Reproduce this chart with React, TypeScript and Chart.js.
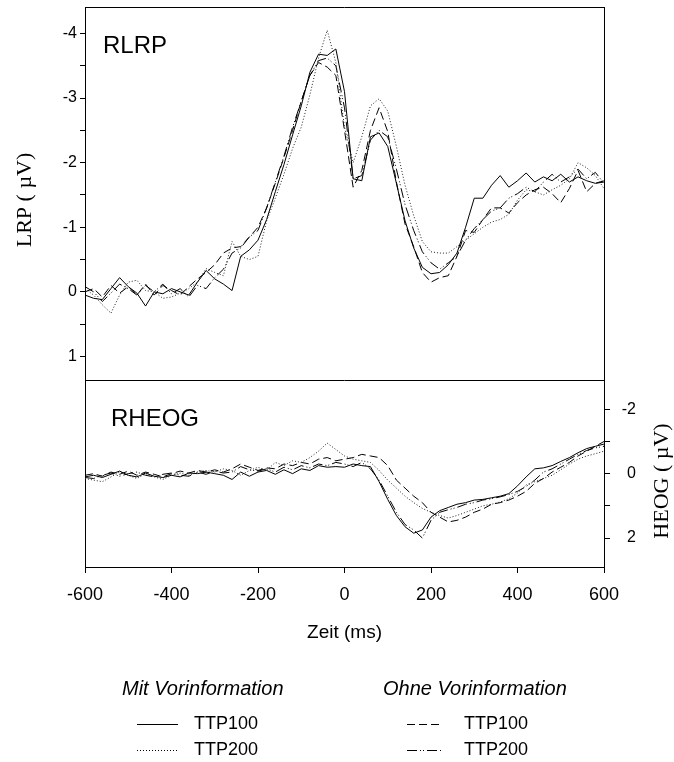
import React, { useEffect, useRef } from "react";
import { Chart, registerables } from "chart.js";

Chart.register(...registerables);

// Time axis (ms)
const times = [
  -600, -580, -560, -540, -520, -500, -480, -460, -440, -420,
  -400, -380, -360, -340, -320, -300, -280, -260, -240, -220,
  -200, -180, -160, -140, -120, -100, -80, -60, -40, -20,
  0, 20, 40, 60, 80, 100, 120, 140, 160, 180,
  200, 220, 240, 260, 280, 300, 320, 340, 360, 380,
  400, 420, 440, 460, 480, 500, 520, 540, 560, 580,
  600,
];

// LRP (µV) – top panel
const lrpMit100 = [
  0.05, 0.10, 0.12, -0.05, -0.22, -0.08, 0.02, 0.22, 0.00, 0.03,
  -0.05, 0.00, 0.05, -0.15, -0.33, -0.20, -0.12, -0.02, -0.55, -0.65,
  -0.80, -1.12, -1.55, -1.97, -2.43, -2.88, -3.40, -3.68, -3.66, -3.76,
  -3.10, -1.75, -1.72, -2.40, -2.46, -2.25, -1.68, -1.10, -0.68, -0.38,
  -0.28, -0.30, -0.42, -0.60, -1.00, -1.45, -1.45, -1.65, -1.80, -1.62,
  -1.72, -1.84, -1.70, -1.78, -1.72, -1.82, -1.70, -1.78, -1.72, -1.68,
  -1.70,
];
const lrpMit200 = [
  -0.05, 0.05, 0.20, 0.33, 0.05, -0.15, -0.18, -0.02, 0.00, 0.10,
  0.08, 0.02, -0.05, -0.15, -0.36, -0.30, -0.25, -0.78, -0.55, -0.50,
  -0.55, -1.10, -1.45, -1.82, -2.22, -2.55, -3.05, -3.62, -4.05, -3.55,
  -2.55, -2.00, -2.40, -2.88, -2.99, -2.80, -2.25, -1.65, -1.18, -0.78,
  -0.62, -0.60, -0.60, -0.70, -0.80, -0.90, -1.00, -1.08, -1.12, -1.20,
  -1.42, -1.58, -1.55, -1.50, -1.58, -1.65, -1.75, -2.00, -1.92, -1.80,
  -1.60,
];
const lrpOhne100 = [
  0.00, -0.05, 0.08, -0.10, 0.02, -0.08, 0.05, -0.12, 0.05, -0.10,
  -0.02, 0.05, -0.08, -0.20, -0.30, -0.42, -0.60, -0.68, -0.70, -0.85,
  -1.00, -1.30, -1.68, -2.08, -2.50, -2.95, -3.35, -3.55, -3.48, -3.35,
  -2.50, -1.62, -1.88, -2.50, -2.85, -2.48, -1.70, -1.05, -0.70, -0.30,
  -0.15, -0.22, -0.25, -0.55, -0.95, -0.92, -1.12, -1.30, -1.30, -1.22,
  -1.38, -1.50, -1.58, -1.62, -1.52, -1.38, -1.60, -1.88, -1.55, -1.68,
  -1.72,
];
const lrpOhne200 = [
  -0.08, 0.00, 0.15, 0.02, -0.12, -0.05, 0.05, -0.10, 0.00, -0.12,
  0.03, -0.05, 0.08, -0.10, -0.05, -0.22, -0.35, -0.60, -0.68, -0.85,
  -0.95, -1.30, -1.70, -2.10, -2.55, -2.95, -3.35, -3.58, -3.62, -3.50,
  -2.85, -1.75, -1.80, -2.35, -2.50, -2.40, -1.90, -1.35, -0.95, -0.62,
  -0.45, -0.35, -0.45, -0.55, -0.80, -0.98, -1.12, -1.25, -1.30, -1.45,
  -1.52, -1.62, -1.55, -1.70, -1.82, -1.70, -1.78, -1.90, -1.75, -1.85,
  -1.68,
];

// HEOG (µV) – bottom panel
const heogMit100 = [
  0.10, 0.05, 0.12, 0.02, -0.08, 0.05, 0.10, -0.02, 0.08, 0.12,
  0.05, 0.10, -0.02, 0.00, -0.05, 0.00, 0.05, 0.18, -0.05, 0.08,
  -0.05, -0.10, 0.02, -0.12, 0.00, -0.15, -0.10, -0.25, -0.20, -0.22,
  -0.20, -0.30, -0.25, -0.22, 0.25, 0.80, 1.30, 1.65, 1.85, 1.75,
  1.35, 1.15, 1.05, 0.95, 0.90, 0.82, 0.80, 0.75, 0.70, 0.62,
  0.38, 0.10, -0.15, -0.18, -0.25, -0.38, -0.50, -0.65, -0.78, -0.85,
  -0.92,
];
const heogMit200 = [
  0.15, 0.20, 0.25, 0.10, -0.05, 0.05, 0.15, 0.00, 0.10, 0.18,
  0.05, -0.02, 0.05, -0.05, -0.10, -0.05, -0.15, -0.10, 0.05, -0.10,
  -0.20, -0.10, -0.35, -0.25, -0.40, -0.35, -0.50, -0.70, -0.95, -0.75,
  -0.55, -0.45, -0.40, -0.35, -0.10, 0.20, 0.45, 0.70, 0.90, 1.08,
  1.20, 1.30, 1.38, 1.30, 1.20, 1.10, 1.00, 0.95, 0.88, 0.78,
  0.60, 0.35, 0.25, 0.15, 0.05, -0.12, -0.30, -0.45, -0.55, -0.62,
  -0.70,
];
const heogOhne100 = [
  0.05, 0.00, 0.08, -0.05, 0.02, -0.08, 0.05, -0.05, 0.02, 0.10,
  0.00, -0.08, -0.02, -0.10, -0.05, -0.12, -0.05, -0.15, -0.30, -0.20,
  -0.10, -0.18, -0.15, -0.30, -0.25, -0.35, -0.30, -0.45, -0.50, -0.40,
  -0.45, -0.50, -0.60, -0.55, -0.50, -0.25, 0.20, 0.45, 0.70, 0.90,
  1.20, 1.35, 1.50, 1.45, 1.35, 1.20, 1.10, 0.95, 0.90, 0.82,
  0.70, 0.55, 0.30, 0.15, -0.05, -0.20, -0.35, -0.55, -0.70, -0.85,
  -1.00,
];
const heogOhne200 = [
  0.12, 0.15, 0.05, -0.02, 0.08, 0.00, -0.05, 0.05, 0.10, 0.02,
  -0.02, 0.05, 0.08, -0.05, 0.02, -0.08, -0.02, -0.05, -0.22, -0.12,
  -0.08, -0.15, -0.05, -0.20, -0.12, -0.25, -0.18, -0.30, -0.25, -0.35,
  -0.30, -0.22, -0.35, -0.15, 0.20, 0.70, 1.20, 1.58, 1.75, 2.00,
  1.45, 1.20, 1.12, 1.05, 0.95, 0.90, 0.82, 0.78, 0.72, 0.65,
  0.55, 0.40, 0.20, -0.05, -0.15, -0.30, -0.45, -0.60, -0.72, -0.80,
  -0.85,
];

const lrpLabeledTicks = [-4, -3, -2, -1, 0, 1];
const heogLabeledTicks = [-2, 0, 2];

const groupTitles = ["Mit Vorinformation", "Ohne Vorinformation"];
const seriesNames = ["TTP100", "TTP200"];

const SANS = "'Liberation Sans', Arial, Helvetica, sans-serif";
const SERIF = "'Liberation Serif', 'Times New Roman', serif";

const DASH_SOLID: number[] = [];
const DASH_DOT = [1, 2];
const DASH_DASH = [8, 4];
const DASH_DASHDOT = [10, 3, 1, 2, 1, 3];

const toXY = (ys: number[]) => times.map((t, i) => ({ x: t, y: ys[i] }));

function lineDs(label: string, ys: number[], axis: string, dash: number[], color = "#000") {
  return {
    label,
    data: toXY(ys),
    yAxisID: axis,
    borderColor: color,
    borderWidth: 1,
    borderDash: dash,
    pointRadius: 0,
    pointHoverRadius: 0,
    tension: 0,
    fill: false,
  };
}

const noPad = (s: any) => {
  s.paddingTop = 0;
  s.paddingBottom = 0;
  s.paddingLeft = 0;
  s.paddingRight = 0;
};

export default function App() {
  const ref = useRef<HTMLCanvasElement>(null);

  useEffect(() => {
    const canvas = ref.current;
    if (!canvas) return;

    const decor = {
      id: "decor",
      afterDraw(chart: any) {
        const ctx = chart.ctx as CanvasRenderingContext2D;
        const ca = chart.chartArea;
        const yTop = chart.scales.yTop;
        ctx.save();
        ctx.strokeStyle = "#000";
        ctx.lineWidth = 1;
        ctx.setLineDash([]);
        // top border and panel divider
        const topY = Math.round(ca.top) + 0.5;
        const divY = Math.round(yTop.bottom) + 0.5;
        ctx.beginPath();
        ctx.moveTo(ca.left, topY);
        ctx.lineTo(ca.right, topY);
        ctx.moveTo(ca.left, divY);
        ctx.lineTo(ca.right, divY);
        ctx.stroke();

        ctx.fillStyle = "#000";
        // panel labels
        ctx.font = `24px ${SANS}`;
        ctx.textAlign = "left";
        ctx.textBaseline = "alphabetic";
        ctx.fillText("RLRP", ca.left + 18, ca.top + 46);
        ctx.fillText("RHEOG", ca.left + 26, yTop.bottom + 46);

        // axis titles (rotated, reading bottom to top)
        ctx.font = `22px ${SERIF}`;
        ctx.textAlign = "center";
        ctx.textBaseline = "middle";
        ctx.save();
        ctx.translate(25, 200);
        ctx.rotate(-Math.PI / 2);
        ctx.fillText("LRP ( µV)", 0, 0);
        ctx.restore();
        ctx.save();
        ctx.translate(662, 481);
        ctx.rotate(-Math.PI / 2);
        ctx.fillText("HEOG ( µV)", 0, 0);
        ctx.restore();

        // legend
        const cols = [
          { titleX: 122, lineX0: 137, lineX1: 178, textX: 194, dashes: [DASH_SOLID, DASH_DOT] },
          { titleX: 383, lineX0: 407, lineX1: 443, textX: 464, dashes: [DASH_DASH, DASH_DASHDOT] },
        ];
        const rowsY = [724, 750];
        cols.forEach((c, ci) => {
          ctx.font = `italic 20px ${SANS}`;
          ctx.textAlign = "left";
          ctx.textBaseline = "middle";
          ctx.fillText(groupTitles[ci], c.titleX, 689);
          rowsY.forEach((ry, ri) => {
            ctx.beginPath();
            ctx.setLineDash(c.dashes[ri]);
            ctx.moveTo(c.lineX0, ry + 0.5);
            ctx.lineTo(c.lineX1, ry + 0.5);
            ctx.stroke();
            ctx.setLineDash([]);
            ctx.font = `18px ${SANS}`;
            ctx.fillText(seriesNames[ri], c.textX, ry);
          });
        });
        ctx.restore();
      },
    };

    const chart = new Chart(canvas, {
      type: "line",
      data: {
        datasets: [
          lineDs("LRP Mit TTP100", lrpMit100, "yTop", DASH_SOLID),
          lineDs("LRP Mit TTP200", lrpMit200, "yTop", DASH_DOT, "#222"),
          lineDs("LRP Ohne TTP100", lrpOhne100, "yTop", DASH_DASH),
          lineDs("LRP Ohne TTP200", lrpOhne200, "yTop", DASH_DASHDOT),
          lineDs("HEOG Mit TTP100", heogMit100, "yBotR", DASH_SOLID),
          lineDs("HEOG Mit TTP200", heogMit200, "yBotR", DASH_DOT, "#222"),
          lineDs("HEOG Ohne TTP100", heogOhne100, "yBotR", DASH_DASH),
          lineDs("HEOG Ohne TTP200", heogOhne200, "yBotR", DASH_DASHDOT),
        ] as any,
      },
      options: {
        responsive: false,
        animation: false,
        events: [],
        layout: { padding: { top: 7, left: 0, right: 38, bottom: 114 } },
        plugins: {
          legend: { display: false },
          tooltip: { enabled: false },
        },
        scales: {
          x: {
            type: "linear",
            position: "bottom",
            min: -600,
            max: 600,
            ticks: {
              stepSize: 200,
              color: "#000",
              font: { family: SANS, size: 18 },
              padding: 11,
              maxRotation: 0,
              autoSkip: false,
              callback: (v: any) => String(v),
            },
            grid: { drawOnChartArea: false, drawTicks: true, tickLength: 6, color: "#000" },
            border: { display: true, color: "#000" },
            title: {
              display: true,
              text: "Zeit (ms)",
              color: "#000",
              font: { family: SANS, size: 19 },
              padding: { top: 4, bottom: 4 },
            },
            afterFit: (s: any) => {
              s.height = 81;
              noPad(s);
            },
          },
          yTop: {
            type: "linear",
            position: "left",
            stack: "L",
            stackWeight: 2,
            weight: 1,
            reverse: true,
            min: -4.41,
            max: 1.37,
            ticks: {
              stepSize: 0.5,
              includeBounds: false,
              autoSkip: false,
              color: "#000",
              font: { family: SANS, size: 16 },
              padding: 3,
              callback: (v: any) => (lrpLabeledTicks.includes(Number(v)) ? String(v) : ""),
            },
            grid: { drawOnChartArea: false, drawTicks: true, tickLength: 5, color: "#000" },
            border: { display: true, color: "#000" },
            afterFit: (s: any) => {
              s.width = 85;
              noPad(s);
            },
          },
          yBotL: {
            type: "linear",
            position: "left",
            stack: "L",
            stackWeight: 1,
            weight: 0,
            min: -1,
            max: 1,
            ticks: { display: false },
            grid: { display: false },
            border: { display: true, color: "#000" },
            afterFit: (s: any) => {
              s.width = 85;
              noPad(s);
            },
          },
          yTopR: {
            type: "linear",
            position: "right",
            stack: "R",
            stackWeight: 2,
            weight: 0,
            min: -1,
            max: 1,
            ticks: { display: false },
            grid: { display: false },
            border: { display: true, color: "#000" },
            afterFit: (s: any) => {
              s.width = 32;
              noPad(s);
            },
          },
          yBotR: {
            type: "linear",
            position: "right",
            stack: "R",
            stackWeight: 1,
            weight: 1,
            reverse: true,
            min: -2.9,
            max: 2.9,
            ticks: {
              stepSize: 1,
              includeBounds: false,
              autoSkip: false,
              crossAlign: "far",
              color: "#000",
              font: { family: SANS, size: 16 },
              padding: 12,
              callback: (v: any) => (heogLabeledTicks.includes(Number(v)) ? String(v) : ""),
            },
            grid: { drawOnChartArea: false, drawTicks: true, tickLength: 6, color: "#000" },
            border: { display: true, color: "#000" },
            afterFit: (s: any) => {
              s.width = 32;
              noPad(s);
            },
          },
        },
      } as any,
      plugins: [decor],
    });

    return () => chart.destroy();
  }, []);

  return (
    <div style={{ position: "absolute", left: 0, top: 0, width: 674, height: 762, background: "#fff" }}>
      <canvas ref={ref} width={674} height={762} style={{ width: 674, height: 762, display: "block" }} />
    </div>
  );
}
